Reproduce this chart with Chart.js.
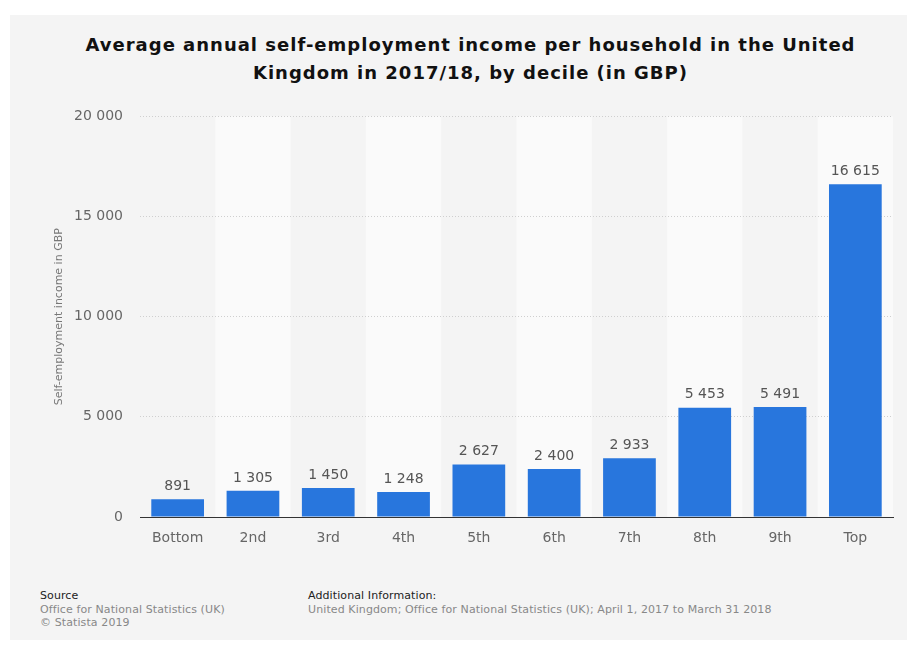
<!DOCTYPE html>
<html>
<head>
<meta charset="utf-8">
<script src="https://cdn.jsdelivr.net/npm/chart.js@4"></script>
<style>
  html, body { margin: 0; padding: 0; background: #fff; }
  body { width: 917px; height: 653px; position: relative; overflow: hidden; font-family: "DejaVu Sans", sans-serif; }
  .card { position: absolute; left: 10px; top: 15px; width: 897px; height: 625px; background: #f4f4f4; }
  .title { position: absolute; left: 22px; top: 31px; width: 897px; text-align: center; font-weight: bold; font-size: 18px; letter-spacing: 1px; line-height: 28px; color: #111; }
  .chart-box { position: absolute; left: 10px; top: 91px; width: 897px; height: 469px; }
  .foot { position: absolute; top: 589px; font-size: 11px; letter-spacing: 0.1px; line-height: 13.5px; color: #888; }
  .foot b { font-weight: normal; color: #222; font-size: 11px; }
</style>
</head>
<body>
<div class="card"></div>
<div class="title">Average annual self-employment income per household in the United<br>Kingdom in 2017/18, by decile (in GBP)</div>
<div class="chart-box"><canvas id="chart"></canvas></div>
<div class="foot" style="left:40px"><b>Source</b><br>Office for National Statistics (UK)<br>© Statista 2019</div>
<div class="foot" style="left:308px"><b>Additional Information:</b><br>United Kingdom; Office for National Statistics (UK); April 1, 2017 to March 31 2018</div>

<script>
/* ---- Data ---- */
const deciles = ["Bottom", "2nd", "3rd", "4th", "5th", "6th", "7th", "8th", "9th", "Top"];
const incomeGBP = [891, 1305, 1450, 1248, 2627, 2400, 2933, 5453, 5491, 16615];
const yTicks = [0, 5000, 10000, 15000, 20000];

const BAR_COLOR = "#2876dd";

/** "16615" -> "16 615" */
function fmt(v) {
  return String(v).replace(/\B(?=(\d{3})+(?!\d))/g, " ");
}

/* alternating column bands behind the bars */
const bandPlugin = {
  id: "bands",
  beforeDraw(chart) {
    const { ctx, chartArea, scales } = chart;
    const x = scales.x;
    const step = (chartArea.right - chartArea.left) / deciles.length;
    ctx.save();
    ctx.fillStyle = "#fafafa";
    deciles.forEach((_, i) => {
      if (i % 2 === 1) {
        const cx = x.getPixelForValue(i);
        ctx.fillRect(cx - step / 2, chartArea.top, step, chartArea.bottom - chartArea.top);
      }
    });
    ctx.restore();
  },
};

/* value labels above each bar */
const valueLabels = {
  id: "valueLabels",
  afterDatasetsDraw(chart) {
    const { ctx } = chart;
    const meta = chart.getDatasetMeta(0);
    ctx.save();
    ctx.font = '14px "DejaVu Sans"';
    ctx.fillStyle = "#555";
    ctx.textAlign = "center";
    ctx.textBaseline = "bottom";
    meta.data.forEach((bar, i) => {
      ctx.fillText(fmt(incomeGBP[i]), bar.x, bar.y - 6);
    });
    ctx.restore();
  },
};

new Chart(document.getElementById("chart"), {
  type: "bar",
  data: {
    labels: deciles,
    datasets: [
      {
        data: incomeGBP,
        backgroundColor: BAR_COLOR,
        barPercentage: 0.7,
        categoryPercentage: 1,
      },
    ],
  },
  options: {
    responsive: true,
    maintainAspectRatio: false,
    animation: false,
    layout: { padding: { left: 43, right: 14, top: 6, bottom: 0 } },
    plugins: { legend: { display: false }, tooltip: { enabled: false } },
    scales: {
      x: {
        grid: { display: false },
        border: { display: true, color: "#333", width: 1 },
        ticks: { color: "#666", font: { family: "DejaVu Sans", size: 14 }, padding: 5 },
        afterFit: (s) => { s.height = 43; },
      },
      y: {
        min: 0,
        max: 20000,
        afterBuildTicks: (s) => { s.ticks = yTicks.map((v) => ({ value: v })); },
        border: { display: false, dash: [1, 2] },
        grid: {
          drawTicks: false,
          color: (c) => (c.tick.value === 0 ? "rgba(0,0,0,0)" : "#cfcfcf"),
        },
        ticks: {
          color: "#666",
          padding: 17,
          font: { family: "DejaVu Sans", size: 14 },
          callback: (v) => fmt(v),
        },
        title: {
          display: true,
          text: "Self-employment income in GBP",
          color: "#777",
          font: { family: "DejaVu Sans", size: 11 },
          padding: { top: 0, bottom: 0 },
        },
        afterFit: (s) => { s.width = 87; },
      },
    },
  },
  plugins: [bandPlugin, valueLabels],
});
</script>
</body>
</html>
